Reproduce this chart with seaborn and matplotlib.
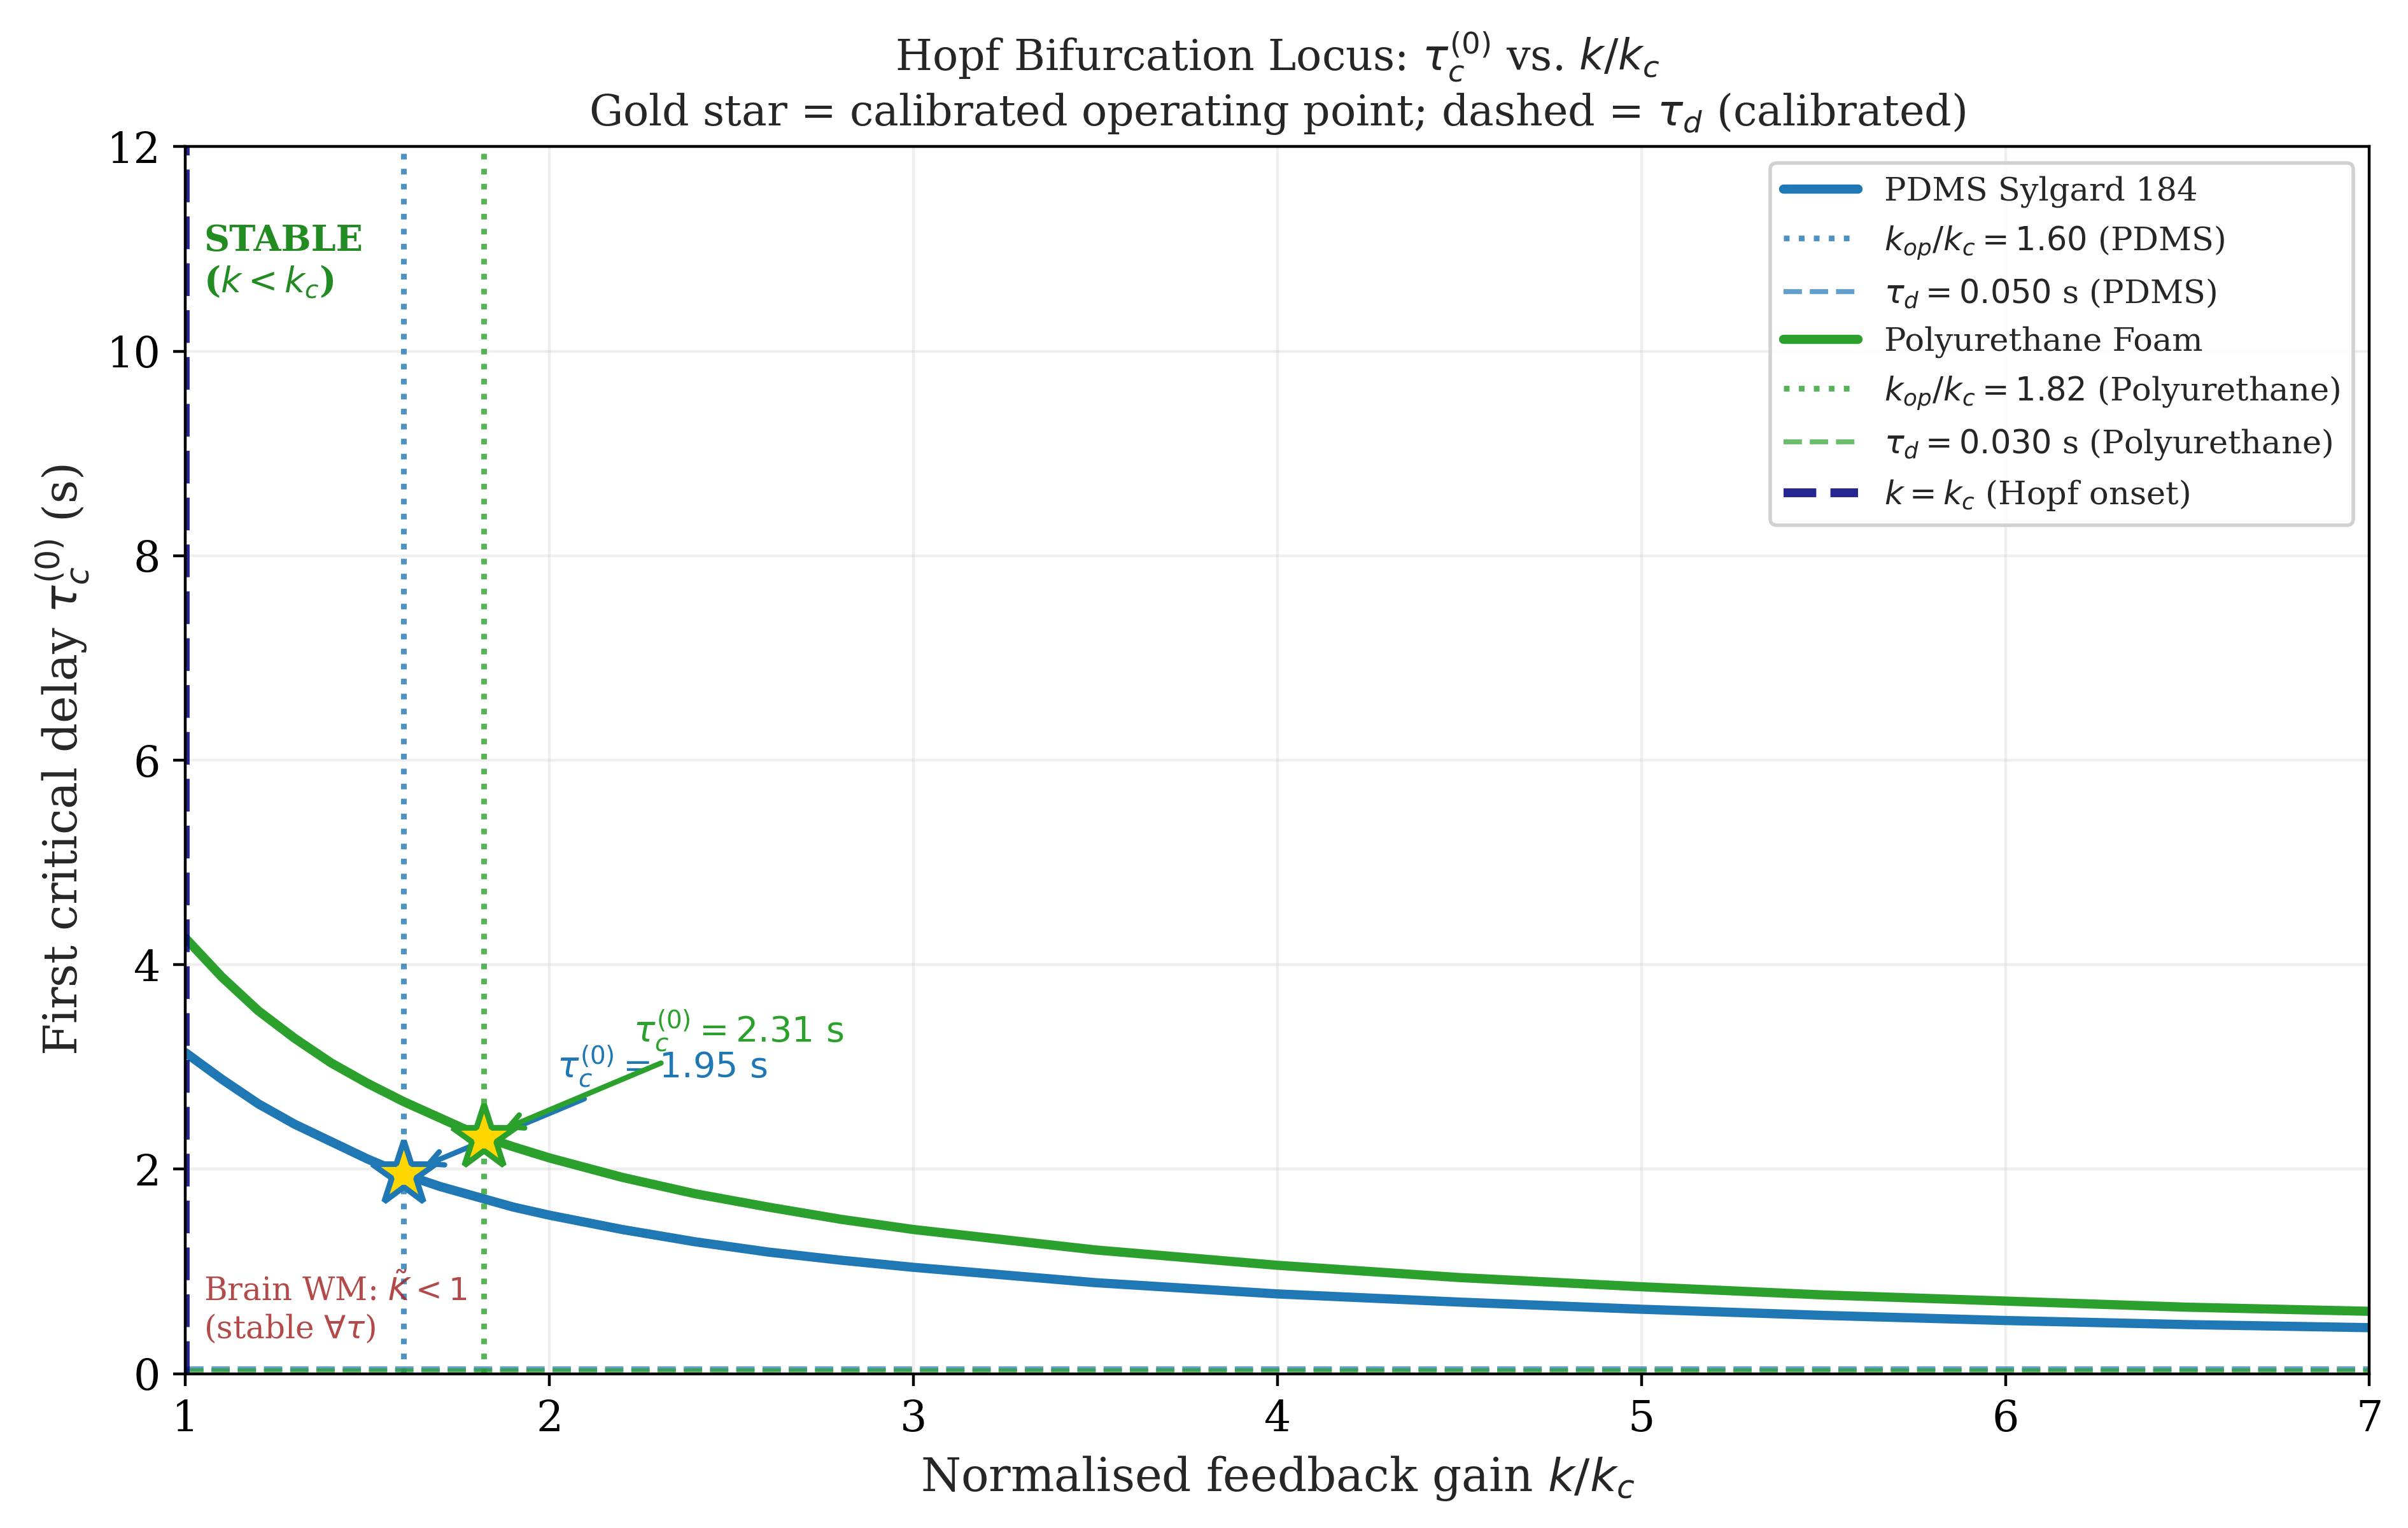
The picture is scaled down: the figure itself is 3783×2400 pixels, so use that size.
import matplotlib
matplotlib.use("Agg")
import matplotlib.pyplot as plt
import seaborn as sns
import pandas as pd

# values
k_ratio = [1.0, 1.1, 1.2, 1.3, 1.4, 1.5, 1.6, 1.7, 1.8, 1.9, 2.0, 2.2, 2.4, 2.6,
           2.8, 3.0, 3.5, 4.0, 4.5, 5.0, 5.5, 6.0, 6.5, 7.0]
tau_pdms = [3.14, 2.88, 2.64, 2.44, 2.27, 2.10, 1.95, 1.83, 1.73, 1.63, 1.55, 1.41,
            1.29, 1.19, 1.11, 1.04, 0.89, 0.78, 0.70, 0.63, 0.57, 0.52, 0.48, 0.45]
tau_pu = [4.26, 3.88, 3.55, 3.28, 3.04, 2.84, 2.66, 2.50, 2.34, 2.22, 2.11, 1.92,
          1.76, 1.63, 1.51, 1.41, 1.21, 1.06, 0.94, 0.85, 0.77, 0.71, 0.65, 0.61]

materials = ["PDMS Sylgard 184", "Polyurethane Foam"]
short_names = ["PDMS", "Polyurethane"]
k_op = [1.60, 1.82]
tau_op = [1.95, 2.31]
tau_d = [0.050, 0.030]
colors = ["#1f77b4", "#2ca02c"]
label_pos = [(2.02, 2.90), (2.23, 3.25)]

sns.set_style("ticks", {"axes.edgecolor": "black", "xtick.color": "black",
                        "ytick.color": "black"})
plt.rcParams["font.family"] = ["DejaVu Serif"]
plt.rcParams["mathtext.fontset"] = "dejavusans"

fig, ax = plt.subplots(figsize=(9.4575, 6.0))
fig.subplots_adjust(left=0.077, right=0.984, top=0.904, bottom=0.101)

curves = [tau_pdms, tau_pu]
for i, name in enumerate(materials):
    df = pd.DataFrame({"k": k_ratio, "tau": curves[i]})
    sns.lineplot(data=df, x="k", y="tau", ax=ax, color=colors[i], lw=2.6,
                 label=name)
    ax.axvline(k_op[i], color=colors[i], ls=":", lw=1.6, alpha=0.8,
               label=rf"$k_{{op}}/k_c = {k_op[i]:.2f}$ ({short_names[i]})")
    ax.axhline(tau_d[i], color=colors[i], ls="--", lw=1.4, alpha=0.7,
               label=rf"$\tau_d = {tau_d[i]:.3f}$ s ({short_names[i]})")
    ax.plot(k_op[i], tau_op[i], marker="*", ms=19, color="gold",
            mec=colors[i], mew=1.6, zorder=6)
    ax.annotate(rf"$\tau_c^{{(0)}} = {tau_op[i]:.2f}\ \mathrm{{s}}$",
                xy=(k_op[i], tau_op[i]), xytext=label_pos[i],
                fontsize=10, color=colors[i],
                arrowprops=dict(arrowstyle="->", color=colors[i], lw=1.5,
                                shrinkB=6))

ax.axvline(1.0, color="navy", ls="--", lw=2.5, alpha=0.85,
           label=r"$k = k_c$ (Hopf onset)")

ax.text(1.05, 11.25, "STABLE\n" + r"($k < k_c$)", color="forestgreen",
        fontsize=10, fontweight="bold", va="top", ha="left")
ax.text(1.05, 0.28, "Brain WM: " + r"$\tilde{K} < 1$" + "\n" + r"(stable $\forall\tau$)",
        color="brown", alpha=0.85, fontsize=9, va="bottom", ha="left")

ax.set_xlim(1, 7)
ax.set_ylim(0, 12)
ax.set_xticks(range(1, 8))
ax.set_yticks(range(0, 13, 2))
ax.tick_params(labelsize=12)
ax.grid(True, alpha=0.3)
ax.set_xlabel(r"Normalised feedback gain $k/k_c$", fontsize=13)
ax.set_ylabel(r"First critical delay $\tau_c^{(0)}$ (s)", fontsize=13)
ax.set_title(r"Hopf Bifurcation Locus: $\tau_c^{(0)}$ vs. $k/k_c$" + "\n"
             + r"Gold star = calibrated operating point; dashed = $\tau_d$ (calibrated)",
             fontsize=12)
ax.legend(loc="upper right", fontsize=9.2, frameon=True, framealpha=0.9,
          handlelength=2.3)

fig.savefig("out.png", dpi=400)
